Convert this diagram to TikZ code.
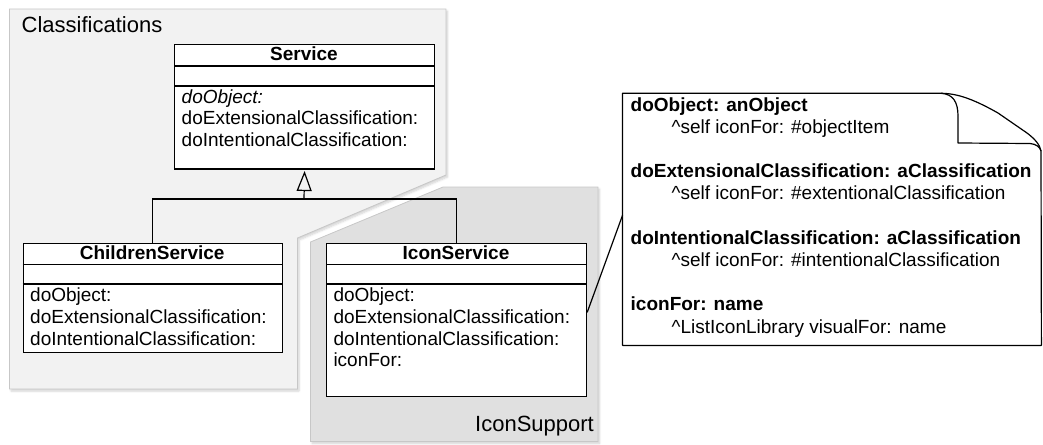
\documentclass[tikz,border=0pt]{standalone}
\usepackage{fontspec}
\setmainfont{Liberation Sans}
\usetikzlibrary{arrows.meta,shadows.blur}
\begin{document}
\begin{tikzpicture}[x=1pt,y=-1pt,
  pkg/.style={draw=black!22, line width=0.8pt,
    blur shadow={shadow xshift=1.5pt, shadow yshift=-2pt, shadow blur steps=6, shadow opacity=18}},
  cls/.style={draw=black, fill=white, line width=1.2pt, inner sep=0pt, anchor=north west},
  sep/.style={draw=black, line width=1.2pt},
  txt/.style={anchor=base west, inner sep=0pt, font=\fontsize{19}{21.7}\selectfont},
  hdr/.style={anchor=base, inner sep=0pt, font=\fontsize{19}{21.7}\selectfont\bfseries},
  ntxt/.style={anchor=base west, inner sep=0pt, font=\fontsize{19}{22.2}\selectfont},
  nhdr/.style={anchor=base west, inner sep=0pt, font=\fontsize{19}{22.2}\selectfont\bfseries},
  lbl/.style={inner sep=0pt, font=\fontsize{22}{26}\selectfont},
  conn/.style={draw=black, line width=1.2pt},
]
\useasboundingbox (0,0) rectangle (1043,444);

% packages
\path[pkg, fill=black!5] (9.5,9) -- (446,9) -- (446,175) -- (297.5,238) -- (297.5,389) -- (9.5,389) -- cycle;
\node[lbl, anchor=base west] (clsLbl) at (21.5,32.3) {Classifications};

\path[pkg, fill=black!12] (310.5,242) -- (443,187) -- (598,187) -- (598,441.5) -- (310.5,441.5) -- cycle;
\node[lbl, anchor=base east] (iconLbl) at (594,431.7) {IconSupport};

% Service
\node[cls, minimum width=260pt, minimum height=124pt] (svc) at (174,44.3) {};
\draw[sep] (174,66) -- (434,66);
\draw[sep] (174,86) -- (434,86);
\node[hdr] (svcH) at (304,60.3) {Service};
\node[txt, font=\fontsize{19}{21.7}\selectfont\itshape] (svc1) at (181.5,103) {doObject:};
\node[txt] (svc2) at (181.5,124.7) {doExtensionalClassification:};
\node[txt] (svc3) at (181.5,146.4) {doIntentionalClassification:};

% ChildrenService
\node[cls, minimum width=259pt, minimum height=109pt] (cs) at (22.7,242.7) {};
\draw[sep] (22.7,264.3) -- (281.7,264.3);
\draw[sep] (22.7,284) -- (281.7,284);
\node[hdr] (csH) at (152.2,259) {ChildrenService};
\node[txt] (cs1) at (30,301.7) {doObject:};
\node[txt] (cs2) at (30,323.4) {doExtensionalClassification:};
\node[txt] (cs3) at (30,345.1) {doIntentionalClassification:};

% IconService
\node[cls, minimum width=260pt, minimum height=153.3pt] (is) at (326,242.7) {};
\draw[sep] (326,264.3) -- (586,264.3);
\draw[sep] (326,284) -- (586,284);
\node[hdr] (isH) at (456,259) {IconService};
\node[txt] (is1) at (333.3,301.7) {doObject:};
\node[txt] (is2) at (333.3,323.4) {doExtensionalClassification:};
\node[txt] (is3) at (333.3,345.1) {doIntentionalClassification:};
\node[txt] (is4) at (333.3,366.8) {iconFor:};

% generalization
\coordinate (jn) at (304,199);
\draw[conn] (cs.north) |- (jn) -| (is.north);
\draw[conn, -{Triangle[open, length=20pt, width=15pt]}, shorten >=1.5pt] (jn) -- (svc.south);

% note
\node[minimum width=418.5pt, minimum height=251.7pt, inner sep=0pt, anchor=north west] (note) at (622.5,93.3) {};
\path[draw=black, fill=white, line width=1.2pt, line join=round]
  (note.north west) -- (941,93.3) .. controls (958,93.3) and (975,100) .. (998,113)
  -- (1027,133) .. controls (1035,139) and (1040,145) .. (1041,151)
  -- (note.south east) -- (note.south west) -- cycle;
\draw[black, line width=1.2pt, line join=round]
  (941,93.3) .. controls (953,94) and (958,102) .. (958,116) -- (958,143)
  -- (1030,143.5) .. controls (1036,144) and (1040,147) .. (1041,151);

\node[nhdr] (n1) at (630.5,111) {doObject: anObject};
\node[ntxt] (n2) at (671.5,133.2) {\char`\^self iconFor: \#objectItem};
\node[nhdr] (n3) at (630.5,177.6) {doExtensionalClassification: aClassification};
\node[ntxt] (n4) at (671.5,199.8) {\char`\^self iconFor: \#extentionalClassification};
\node[nhdr] (n5) at (630.5,244.2) {doIntentionalClassification: aClassification};
\node[ntxt] (n6) at (671.5,266.4) {\char`\^self iconFor: \#intentionalClassification};
\node[nhdr] (n7) at (630.5,310.8) {iconFor: name};
\node[ntxt] (n8) at (671.5,333) {\char`\^ListIconLibrary visualFor: name};

% note anchor line
\draw[conn] ([yshift=7.6pt]is.east) -- ([yshift=4pt]note.west);
\end{tikzpicture}
\end{document}
